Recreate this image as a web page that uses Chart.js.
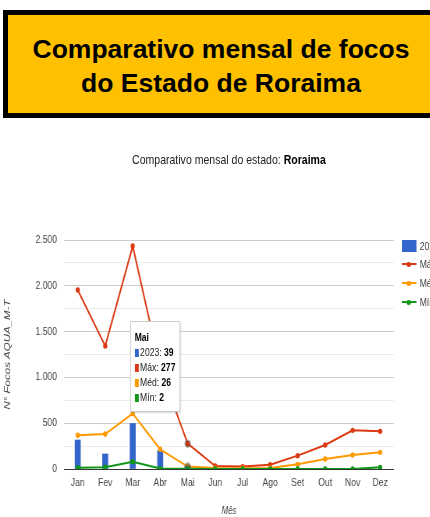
<!DOCTYPE html>
<html><head><meta charset="utf-8">
<script src="https://cdn.jsdelivr.net/npm/chart.js@4.4.0/dist/chart.umd.min.js"></script>
<style>
html,body{margin:0;padding:0;width:430px;height:517px;overflow:hidden;background:#fff;}
#banner{position:absolute;left:3px;top:10px;width:426px;height:98px;border:5px solid #000;background:#FFC000;
  font-family:'Liberation Sans',Arial,sans-serif;font-weight:bold;font-size:26.5px;line-height:34px;text-align:center;color:#000;box-sizing:content-box;z-index:2;}
#banner div{padding-top:17px;}
#scaled{position:absolute;left:0;top:0;width:551px;height:517px;transform:scaleX(0.78);transform-origin:0 0;}
#subtitle{position:absolute;left:82px;width:423px;top:152px;text-align:center;font-family:'Liberation Sans',Arial,sans-serif;font-size:13.5px;line-height:15px;color:#222;}
#subtitle b{color:#000;}
#wrap{position:absolute;left:0;top:0;width:551px;height:517px;}
#legend{position:absolute;left:515px;top:240px;font-family:'Liberation Sans',Arial,sans-serif;font-size:11px;color:#444;white-space:nowrap;}
.li{position:absolute;left:0;height:12px;line-height:12px;}
.sw{position:absolute;left:0;}
.lt{position:absolute;left:23px;top:0;}
#tip{position:absolute;background:#fff;border:1px solid #ccc;box-shadow:1px 1px 2px rgba(0,0,0,0.15);font-family:'Liberation Sans',Arial,sans-serif;font-size:11px;color:#222;padding:8px 5px 6px 5px;line-height:15px;white-space:nowrap;}
#tip .t{font-weight:bold;color:#000;}
#tip .sq{display:inline-block;width:5px;height:8px;margin-right:2px;vertical-align:-1px;}
#tip b{color:#000;}
</style></head>
<body>
<div id="banner"><div>Comparativo mensal de focos<br>do Estado de Roraima</div></div>
<div id="scaled">
<div id="wrap"><canvas id="c" width="551" height="517"></canvas></div>
<div id="subtitle">Comparativo mensal do estado: <b>Roraima</b></div>
<div id="legend"></div>
<div id="tip" style="display:none"></div>
</div>
<script>
const months = ['Jan','Fev','Mar','Abr','Mai','Jun','Jul','Ago','Set','Out','Nov','Dez'];
const focos2023 = [317,164,497,200,39,null,null,null,null,null,null,null];
const maxValues = [1955,1343,2434,1100,277,33,26,47,146,262,422,411];
const medValues = [368,382,605,215,26,10,8,12,51,109,153,182];
const minValues = [15,20,80,5,2,1,0,0,0,0,0,18];
const yTickLabels = ['0','500','1.000','1.500','2.000','2.500'];
const seriesNames = ['2023','Máx','Méd','Mín'];
const seriesColors = ['#3366cc','#dc3912','#ff9900','#109618'];
const activeMonth = 'Mai';

Chart.defaults.font.family = "'Liberation Sans',Arial,sans-serif";
Chart.defaults.color = '#444';

function lineDs(label, data, color, order){
  return {type:'line', label, data, borderColor:color, backgroundColor:color, borderWidth:2,
    pointRadius:2.7, pointHoverRadius:3, pointBorderWidth:0, pointHoverBorderWidth:2.5,
    pointHoverBorderColor:'rgba(90,90,90,0.45)',
    pointBackgroundColor:color, tension:0, order};
}

const tipEl = document.getElementById('tip');
function externalTip(ctx){
  const tt = ctx.tooltip;
  if (tt.opacity === 0 || !tt.dataPoints || !tt.dataPoints.length){ tipEl.style.display='none'; return; }
  const pts = tt.dataPoints.slice().sort((a,b)=>a.datasetIndex-b.datasetIndex);
  let html = '<div class="t">'+pts[0].label+'</div>';
  pts.forEach(p=>{
    html += '<div><span class="sq" style="background:'+seriesColors[p.datasetIndex]+'"></span>'+p.dataset.label+': <b>'+p.raw+'</b></div>';
  });
  tipEl.innerHTML = html;
  tipEl.style.display='block';
  const ref = pts.find(p=>p.datasetIndex===1).element;
  const w = tipEl.offsetWidth, h = tipEl.offsetHeight;
  tipEl.style.left = (ref.x - 10 - w) + 'px';
  tipEl.style.top = (ref.y - 32 - h) + 'px';
}

const chart = new Chart(document.getElementById('c'), {
  data: {
    labels: months,
    datasets: [
      {type:'bar', label:seriesNames[0], data:focos2023, backgroundColor:seriesColors[0], barThickness:7, order:3},
      lineDs(seriesNames[1], maxValues, seriesColors[1], 2),
      lineDs(seriesNames[2], medValues, seriesColors[2], 1),
      lineDs(seriesNames[3], minValues, seriesColors[3], 0)
    ]
  },
  options: {
    responsive:false, animation:false,
    layout:{padding:{top:240,right:46,left:0,bottom:0}},
    interaction:{mode:'index', intersect:false},
    events:[],
    plugins:{
      legend:{display:false},
      title:{display:false},
      tooltip:{enabled:false, external:externalTip, mode:'index', intersect:false}
    },
    scales:{
      x:{
        offset:true,
        grid:{display:false, drawTicks:false},
        border:{display:false},
        ticks:{padding:7, font:{size:11}, color:'#444', maxRotation:0, autoSkip:false},
        title:{display:true, text:'Mês', font:{size:10, style:'italic'}, color:'#444', padding:{top:0,bottom:0}},
        afterFit:(s)=>{s.height = 48;}
      },
      y:{
        min:0, max:2500,
        grid:{drawTicks:false,
          color:(c)=> c.tick.value===0 ? '#333' : (c.tick.value % 500 === 0 ? '#cccccc' : '#ebebeb'),
          lineWidth:1},
        border:{display:false},
        ticks:{stepSize:250, padding:9, font:{size:11}, color:'#444',
          callback:(v)=> v % 500 === 0 ? yTickLabels[v/500] : ''},
        title:{display:true, text:'N° Focos AQUA_M-T', font:{size:11.5, style:'italic'}, color:'#444', padding:{top:3,bottom:0}},
        afterFit:(s)=>{s.width = 82;}
      }
    }
  }
});

// legend
const lg = document.getElementById('legend');
seriesNames.forEach((n,i)=>{
  const d = document.createElement('div');
  d.className='li'; d.style.top = (i===0?0:(18+ (i-1)*19)) + 'px';
  let sw;
  if (i===0){
    sw = '<span class="sw" style="top:0;width:19px;height:12px;background:'+seriesColors[0]+'"></span>';
  } else {
    sw = '<span class="sw" style="top:5px;width:19px;height:2px;background:'+seriesColors[i]+'"></span>'+
         '<span class="sw" style="left:6px;top:3.5px;width:6.4px;height:5px;border-radius:50%;background:'+seriesColors[i]+'"></span>';
  }
  d.innerHTML = sw + '<span class="lt">'+n+'</span>';
  lg.appendChild(d);
});

// activate tooltip on the highlighted month
const idx = months.indexOf(activeMonth);
const act = chart.data.datasets.map((d,i)=>({datasetIndex:i,index:idx}));
chart.setActiveElements(act);
const el = chart.getDatasetMeta(1).data[idx];
chart.tooltip.setActiveElements(act, {x:el.x, y:el.y});
chart.update();
</script>
</body></html>
